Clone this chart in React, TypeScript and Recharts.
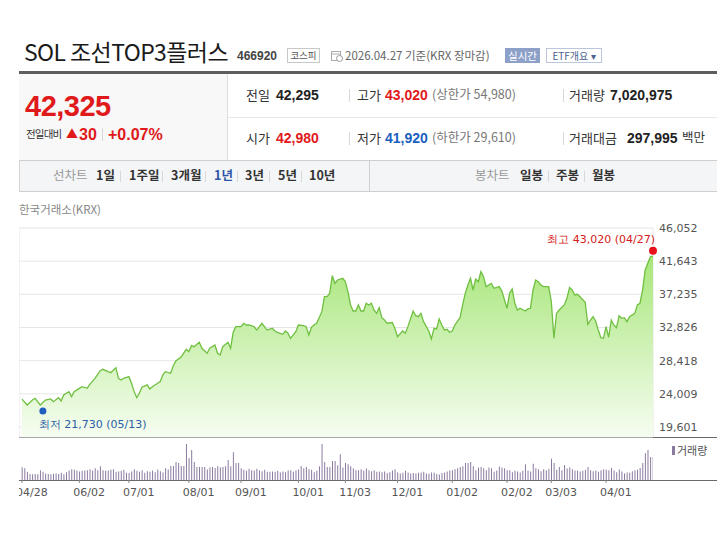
import React from "react";
import { ComposedChart, Area, XAxis, YAxis, CartesianGrid, ReferenceDot, BarChart, Bar } from "recharts";

// trading-day index (0 = 2025-04-28) and closing price
const priceDays = [
  0, 2, 4, 5, 7, 9, 11, 12, 14, 15, 16, 18, 19, 20, 22, 23, 25, 26, 28, 30, 31, 33, 34, 36, 37, 38, 39,
  41, 42, 43, 44, 45, 46, 48, 49, 50, 52, 53, 54, 55, 57, 58, 59, 61, 63, 64, 65, 66, 68, 69, 71, 72,
  74, 75, 76, 77, 79, 80, 81, 82, 84, 85, 86, 87, 89, 90, 92, 93, 94, 96, 97, 98, 100, 101, 102, 103,
  105, 106, 108, 109, 110, 111, 112, 113, 115, 116, 117, 118, 119, 120, 121, 123, 124, 125, 126, 127,
  128, 129, 130, 131, 132, 133, 134, 135, 136, 137, 138, 139, 140, 142, 143, 144, 146, 147, 148, 150,
  151, 152, 153, 154, 156, 157, 158, 159, 160, 161, 162, 163, 164, 165, 166, 168, 169, 170, 171, 172,
  173, 174, 175, 176, 177, 178, 180, 181, 183, 184, 186, 187, 188, 189, 190, 191, 193, 194, 195, 196,
  197, 198, 199, 200, 202, 203, 204, 205, 206, 208, 209, 210, 211, 212, 213, 214, 216, 217, 218, 219,
  220, 221, 222, 223, 224, 225, 226, 227, 228, 229, 230, 231, 232, 233, 235, 236, 237, 238, 239, 240,
  241, 242,
];
const priceCloses = [
  23300, 22530, 23190, 23420, 22530, 23190, 23330, 22970, 23500, 23060, 23860, 24300, 23640, 24300,
  24740, 24960, 24740, 25270, 26070, 27080, 27270, 26950, 26820, 27480, 26070, 25850, 26070,
  26290, 25410, 24300, 23500, 24080, 24880, 25190, 24660, 24960, 25410, 25630, 26520, 26950, 26740,
  27700, 28370, 28900, 29930, 29610, 30410, 30280, 30860, 30060, 29400, 30060,
  30500, 29400, 29170, 30280, 30860, 30060, 32190, 32940, 32940, 33390, 33160, 33160, 32940, 32490,
  33390, 32940, 32490, 32720, 32360, 32190, 31920, 32360, 32060, 31390,
  32270, 33160, 33070, 32940, 31830, 32850, 33160, 33390, 34930, 36920, 36920, 37370, 39710, 38700,
  39140, 39370, 38920, 37590, 35820, 35020,
  35020, 35820, 35020, 35020, 36050, 35820, 36050, 35150, 34710, 35460, 34130, 33830, 33390, 33480,
  32720, 31610, 32360, 32060, 32940, 35020,
  34390, 34260, 34700, 33600, 32360, 31300, 32720, 32630, 33960, 33160, 32490, 32580, 32190, 32360,
  33160, 34130, 35820, 37370, 38480, 39370,
  37810, 39270, 38920, 40250, 39580, 38260, 38700, 38040, 38260, 37700, 35380, 37370, 37940, 36050,
  35150, 35380, 35020, 35290, 35380, 37810,
  39140, 38920, 38480, 38260, 38260, 36260, 31390, 34700, 35150, 35820, 36700, 38130, 37810, 37150,
  37240, 36920, 36180, 33250, 33820, 34260,
  33690, 32490, 31470, 31390, 32940, 31530, 33820, 33160, 32800, 34390, 34050, 34130, 33600, 34260,
  34700, 35820, 36050, 37810, 40470, 41360,
  42240, 42325,
];

// daily volume (만주), one per trading day 0..242
const volumes = [
  390, 360, 250, 180, 175, 180, 175, 300, 250, 200,
  180, 175, 190, 200, 180, 220, 175, 240, 290, 330,
  310, 290, 260, 280, 290, 300, 330, 290, 360, 300,
  420, 300, 280, 290, 310, 330, 250, 260, 280, 310,
  220, 210, 260, 330, 280, 250, 300, 220, 270, 250,
  290, 240, 320, 270, 230, 360, 320, 430, 430, 550,
  520, 430, 430, 1100, 670, 920, 550, 400, 400, 400,
  400, 320, 380, 400, 370, 420, 390, 400, 420, 610,
  420, 850, 520, 520, 360, 310, 280, 340, 300, 290,
  340, 300, 270, 310, 250, 250, 260, 250, 280, 230,
  260, 240, 290, 300, 250, 300, 320, 430, 360, 400,
  330, 310, 240, 280, 420, 1100, 550, 400, 400, 580,
  580, 450, 790, 380, 520, 480, 420, 350, 300, 300,
  330, 280, 350, 300, 270, 300, 250, 260, 240, 260,
  210, 240, 290, 330, 230, 200, 220, 280, 230, 200,
  210, 200, 220, 230, 250, 200, 190, 230, 220, 180,
  170, 210, 230, 260, 290, 300, 330, 360, 400, 420,
  520, 520, 550, 420, 300, 380, 400, 360, 300, 380,
  360, 250, 290, 410, 380, 360, 300, 300, 240, 280,
  260, 230, 280, 480, 290, 260, 500, 360, 330, 270,
  330, 300, 340, 650, 520, 310, 400, 300, 460, 350,
  380, 330, 290, 280, 260, 280, 310, 400, 300, 270,
  290, 250, 300, 330, 310, 300, 370, 290, 240, 320,
  260, 200, 230, 220, 270, 300,
  310, 370, 520, 820, 920, 700, 702,
];

const tickDays = [0, 22, 41, 64, 84, 106, 124, 144, 165, 186, 203, 224];
const tickLabels = ["04/28", "06/02", "07/01", "08/01", "09/01", "10/01", "11/03", "12/01", "01/02", "02/02", "03/03", "04/01"];
const priceTicks = [19601, 24009, 28418, 32826, 37235, 41643, 46052];
const priceMin = 18270;
const highPoint = { day: 242, value: 43020, date: "04/27" };
const lowPoint = { day: 8, value: 21730, date: "05/13" };

const priceData = priceDays.map((d, i) => ({ day: d, close: priceCloses[i] }));
const volumeData = volumes.map((v, i) => ({ day: i, vol: v }));
const labelOf: Record<number, string> = {};
tickDays.forEach((d, i) => (labelOf[d] = tickLabels[i]));

const KR = '"Noto Sans CJK KR", "Noto Sans", sans-serif';
const NUM = '"Liberation Sans", Arial, sans-serif';
const AX = '"DejaVu Sans", Verdana, sans-serif';
const RED = "#e0191b";
const BLUE = "#1b5fbf";

function T({ x, y, size = 12, color = "#333", bold = false, font = KR, children, style }: any) {
  return (
    <div
      style={{
        position: "absolute",
        left: x,
        top: y,
        fontSize: size,
        color,
        fontWeight: bold ? 700 : 400,
        fontFamily: font,
        lineHeight: 1,
        whiteSpace: "nowrap",
        ...style,
      }}
    >
      {children}
    </div>
  );
}

function VLine({ x, y, h, color = "#d8d8d8" }: any) {
  return <div style={{ position: "absolute", left: x, top: y, width: 1, height: h, background: color }} />;
}

const fmt = (v: number) => v.toLocaleString("en-US");

const HighLabel = (props: any) => {
  const vb = props.viewBox || {};
  const cx = vb.x + (vb.width || 0) / 2;
  const cy = vb.y + (vb.height || 0) / 2;
  return (
    <text x={cx + 2} y={cy - 8} textAnchor="end" fontSize={11} fill="#d42020" fontFamily={AX}>
      {`최고 ${fmt(highPoint.value)} (${highPoint.date})`}
    </text>
  );
};

const LowLabel = (props: any) => {
  const vb = props.viewBox || {};
  const cx = vb.x + (vb.width || 0) / 2;
  const cy = vb.y + (vb.height || 0) / 2;
  return (
    <text x={cx - 4} y={cy + 17} textAnchor="start" fontSize={11} fill="#2b5ea6" fontFamily={AX}>
      {`최저 ${fmt(lowPoint.value)} (${lowPoint.date})`}
    </text>
  );
};

const DateTick = (props: any) => {
  const { x, y, payload } = props;
  return (
    <text x={x - 6} y={y + 11} textAnchor="start" fontSize={11} fill="#555" fontFamily={AX}>
      {labelOf[payload.value]}
    </text>
  );
};

export default function App() {
  return (
    <div style={{ position: "relative", width: 717, height: 556, background: "#fff", overflow: "hidden" }}>
      <style>{`body{margin:0}`}</style>

      {/* title row */}
      <T x={24} y={40} size={23} color="#1a1a1a" style={{ letterSpacing: -0.6 }}>SOL 조선TOP3플러스</T>
      <T x={237} y={50} size={12} bold font={NUM} color="#444">466920</T>
      <div style={{ position: "absolute", left: 287, top: 48, width: 31, height: 13, border: "1px solid #c8c8c8", fontSize: 9.5, fontFamily: KR, color: "#555", textAlign: "center", lineHeight: "13px" }}>코스피</div>
      <svg style={{ position: "absolute", left: 331, top: 50 }} width={12} height={12}>
        <rect x={0.5} y={1.5} width={9} height={9} fill="none" stroke="#aaa" />
        <line x1={0.5} y1={4} x2={9.5} y2={4} stroke="#aaa" />
        <circle cx={8.5} cy={8.5} r={3} fill="#fff" stroke="#999" />
      </svg>
      <T x={345} y={50} size={11.5} color="#666">2026.04.27 기준(KRX 장마감)</T>
      <div style={{ position: "absolute", left: 505, top: 48, width: 35, height: 15, background: "#8ca0c8", fontSize: 10.5, fontFamily: KR, color: "#fff", textAlign: "center", lineHeight: "15px" }}>실시간</div>
      <div style={{ position: "absolute", left: 546, top: 48, width: 54, height: 13, border: "1px solid #bcc6da", fontSize: 10, fontFamily: KR, color: "#4a5f90", textAlign: "center", lineHeight: "13px" }}>ETF개요 ▾</div>
      <div style={{ position: "absolute", left: 19, top: 71, width: 698, height: 3, background: "#5e5e5e" }} />

      {/* price summary */}
      <div style={{ position: "absolute", left: 19, top: 74, width: 208, height: 86, background: "#f8f8f8", borderRight: "1px solid #dcdcdc" }} />
      <div style={{ position: "absolute", left: 228, top: 117, width: 489, height: 1, background: "#e8e8e8" }} />
      <div style={{ position: "absolute", left: 19, top: 160, width: 698, height: 1, background: "#cfcfcf" }} />
      <T x={25} y={92} size={29} bold font={NUM} color={RED} style={{ letterSpacing: -0.5 }}>42,325</T>
      <T x={26} y={129} size={10.5} color="#333" style={{ letterSpacing: -0.8 }}>전일대비</T>
      <T x={66} y={128} size={12} color={RED}>▲</T>
      <T x={79} y={127} size={16} bold font={NUM} color={RED}>30</T>
      <VLine x={102} y={128} h={13} />
      <T x={108} y={127} size={16} bold font={NUM} color={RED}>+0.07%</T>

      <T x={246} y={88} size={13} color="#333">전일</T>
      <T x={276} y={88} size={14} bold font={NUM} color="#222">42,295</T>
      <VLine x={349} y={89} h={13} />
      <T x={357} y={88} size={13} color="#333">고가</T>
      <T x={385} y={88} size={14} bold font={NUM} color={RED}>43,020</T>
      <T x={432} y={88} size={12.5} color="#777">(상한가 54,980)</T>
      <VLine x={563} y={89} h={13} />
      <T x={569} y={88} size={13} color="#333">거래량</T>
      <T x={610} y={88} size={14} bold font={NUM} color="#222">7,020,975</T>

      <T x={246} y={131} size={13} color="#333">시가</T>
      <T x={276} y={131} size={14} bold font={NUM} color={RED}>42,980</T>
      <VLine x={349} y={132} h={13} />
      <T x={357} y={131} size={13} color="#333">저가</T>
      <T x={385} y={131} size={14} bold font={NUM} color={BLUE}>41,920</T>
      <T x={432} y={131} size={12.5} color="#777">(하한가 29,610)</T>
      <VLine x={563} y={132} h={13} />
      <T x={569} y={131} size={13} color="#333">거래대금</T>
      <T x={627} y={131} size={14} bold font={NUM} color="#222">297,995</T>
      <T x={682} y={131} size={12.5} color="#333">백만</T>

      {/* period tabs */}
      <div style={{ position: "absolute", left: 19, top: 161, width: 697, height: 30, background: "#f4f5f7", borderLeft: "1px solid #d6d6d6", borderBottom: "1px solid #cfcfcf" }} />
      <VLine x={369} y={161} h={30} color="#d0d0d0" />
      <T x={53} y={169} size={12.5} color="#999">선차트</T>
      <T x={96} y={169} size={12.5} bold color="#333">1일</T>
      <VLine x={120} y={171} h={11} />
      <T x={129} y={169} size={12.5} bold color="#333">1주일</T>
      <VLine x={162} y={171} h={11} />
      <T x={171} y={169} size={12.5} bold color="#333">3개월</T>
      <VLine x={205} y={171} h={11} />
      <T x={214} y={169} size={12.5} bold color="#2f55a8">1년</T>
      <VLine x={237} y={171} h={11} />
      <T x={245} y={169} size={12.5} bold color="#333">3년</T>
      <VLine x={269} y={171} h={11} />
      <T x={278} y={169} size={12.5} bold color="#333">5년</T>
      <VLine x={301} y={171} h={11} />
      <T x={309} y={169} size={12.5} bold color="#333">10년</T>
      <T x={475} y={169} size={12.5} color="#999">봉차트</T>
      <T x={520} y={169} size={12.5} bold color="#333">일봉</T>
      <VLine x={548} y={171} h={11} />
      <T x={556} y={169} size={12.5} bold color="#333">주봉</T>
      <VLine x={584} y={171} h={11} />
      <T x={592} y={169} size={12.5} bold color="#333">월봉</T>

      <T x={19} y={204} size={11.5} color="#888">한국거래소(KRX)</T>

      {/* charts */}
      <div style={{ position: "absolute", left: 19, top: 200, width: 698, height: 310, overflow: "hidden" }}>
        <div style={{ position: "absolute", left: 0, top: 237, width: 698, height: 1, background: "#6a6a6a" }} />
        <div style={{ position: "absolute", left: 0, top: 280, width: 698, height: 1, background: "#6a6a6a" }} />
        <div style={{ position: "absolute", left: 0, top: 0 }}>
          <ComposedChart width={698} height={238} data={priceData} margin={{ top: 28, right: 0, left: 0, bottom: 0 }}>
            <defs>
              <linearGradient id="pg" x1="0" y1="0" x2="0" y2="1">
                <stop offset="0%" stopColor="#a8e67a" />
                <stop offset="100%" stopColor="#f6fdf1" />
              </linearGradient>
            </defs>
            <CartesianGrid stroke="#e6e6e6" />
            <XAxis dataKey="day" type="number" domain={[-1.15, 242]} ticks={tickDays} tick={false} tickLine={false} axisLine={false} height={1} allowDataOverflow />
            <YAxis
              orientation="right"
              type="number"
              domain={[priceMin, priceTicks[priceTicks.length - 1]]}
              ticks={priceTicks}
              width={64}
              tickLine={false}
              axisLine={false}
              tickSize={4}
              tickMargin={2}
              tickFormatter={fmt}
              tick={{ fontSize: 11, fill: "#555", fontFamily: AX, textAnchor: "start" }}
              allowDataOverflow
            />
            <Area type="linear" dataKey="close" stroke="#6fbf40" strokeWidth={1.3} fill="url(#pg)" fillOpacity={1} isAnimationActive={false} dot={false} activeDot={false} />
            <ReferenceDot x={highPoint.day} y={highPoint.value} r={4} fill="#e8101a" stroke="none" label={HighLabel} />
            <ReferenceDot x={lowPoint.day} y={lowPoint.value} r={3.5} fill="#1f5fc0" stroke="none" label={LowLabel} />
          </ComposedChart>
        </div>
        <div style={{ position: "absolute", left: 0, top: 238 }}>
          <BarChart width={698} height={70} data={volumeData} margin={{ top: 5, right: 64, left: 0, bottom: 0 }}>
            <XAxis dataKey="day" type="number" domain={[-1.15, 242]} ticks={tickDays} tick={<DateTick />} tickLine={{ stroke: "#888" }} tickSize={3} axisLine={false} height={28} interval={0} allowDataOverflow />
            <YAxis hide domain={[0, 1130]} />
            <Bar dataKey="vol" fill="#8b7aa0" barSize={1} isAnimationActive={false} />
          </BarChart>
        </div>
      </div>
      <div style={{ position: "absolute", left: 672, top: 446, width: 3, height: 9, background: "#8b7aa0" }} />
      <T x={677} y={445} size={11} color="#555">거래량</T>
    </div>
  );
}
